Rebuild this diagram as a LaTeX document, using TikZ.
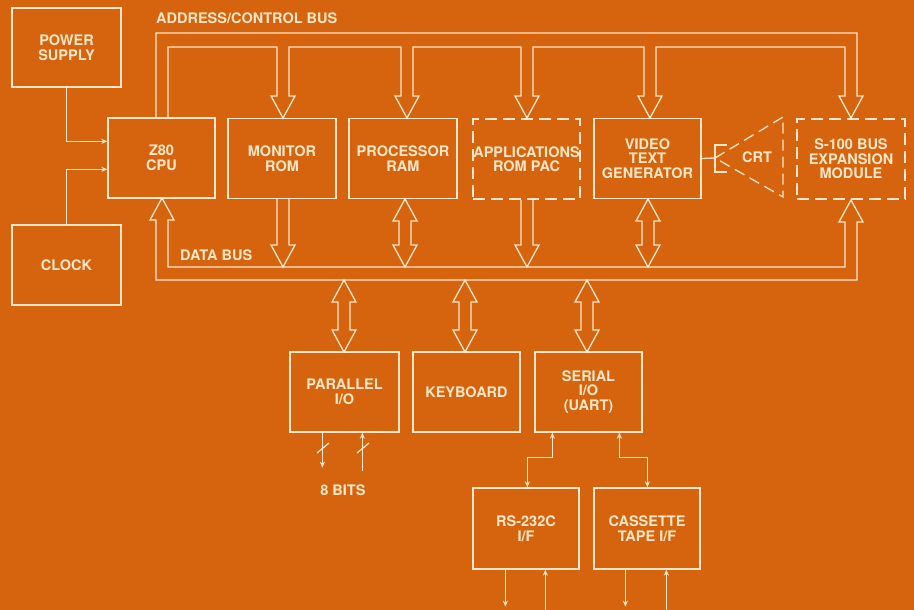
\documentclass[tikz,border=0pt]{standalone}
\usepackage{fontspec}
\setmainfont{TeX Gyre Heros}
\usetikzlibrary{arrows.meta,calc}
\definecolor{bg}{RGB}{214,100,14}
\definecolor{ln}{RGB}{252,232,200}
\newcommand\dnarrow[3]{\draw[bus] (#1-6,#2) -- (#1-6,#3-22) -- (#1-12,#3-22) -- (#1,#3) -- (#1+12,#3-22) -- (#1+6,#3-22) -- (#1+6,#2);}
\newcommand\dblarrow[3]{\draw[bus] (#1,#2) -- (#1+12,#2+22) -- (#1+6,#2+22) -- (#1+6,#3-22) -- (#1+12,#3-22) -- (#1,#3) -- (#1-12,#3-22) -- (#1-6,#3-22) -- (#1-6,#2+22) -- (#1-12,#2+22) -- cycle;}
\begin{document}
\begin{tikzpicture}[x=1pt,y=-1pt,
  txt/.style={text=ln, font=\bfseries\fontsize{14.5}{14.5}\selectfont},
  box/.style={txt, draw=ln, line width=1.3pt, minimum width=107pt, minimum height=80pt, inner sep=0pt, align=center},
  dbox/.style={box, dash pattern=on 12pt off 6pt},
  bus/.style={draw=ln, line width=1.3pt, line join=miter},
  wire/.style={draw=ln, line width=1.3pt},
  tip/.style={-{Stealth[length=6pt,width=5pt]}},
  dtip/.style={{Stealth[length=6pt,width=5pt]}-{Stealth[length=6pt,width=5pt]}},
  lbl/.style={txt, inner sep=0pt}]
\fill[bg] (0,0) rectangle (914,610);
\useasboundingbox (0,0) rectangle (914,610);

% boxes
\node[box, minimum width=109pt, minimum height=79pt] (ps) at (66.5,47.5) {POWER\\SUPPLY};
\node[box, minimum width=109pt] (clk) at (66.5,265) {CLOCK};
\node[box] (cpu) at (161.5,158) {Z80\\CPU};
\node[box, minimum width=108pt] (mon) at (282,158.5) {MONITOR\\ROM};
\node[box, minimum width=108pt] (ram) at (403,158.5) {PROCESSOR\\RAM};
\node[dbox] (app) at (526.5,159) {APPLICATIONS\\ROM PAC};
\node[box] (vtg) at (647.5,158.5) {VIDEO\\TEXT\\GENERATOR};
\node[dbox, minimum width=108pt] (s100) at (851,159) {S-100 BUS\\EXPANSION\\MODULE};
\node[box, minimum width=109pt] (par) at (344.5,392) {PARALLEL\\I/O};
\node[box] (kbd) at (466.5,392) {KEYBOARD};
\node[box] (ser) at (588.5,392) {SERIAL\\I/O\\(UART)};
\node[box, minimum width=106pt, minimum height=81pt] (rs) at (526,528.5) {RS-232C\\I/F};
\node[box, minimum width=106pt, minimum height=81pt] (cas) at (647,528.5) {CASSETTE\\TAPE I/F};

% labels
\node[lbl, anchor=west] (acb) at (156,18) {ADDRESS/CONTROL BUS};
\node[lbl, anchor=west] (dbl) at (180,255) {DATA BUS};
\node[lbl] (bits) at (343,490) {8 BITS};

% address / control bus
\draw[bus] (156,118) -- (156,33) -- (857,33) -- (857,96) -- (863,96) -- (851,118) -- (839,96) -- (845,96) -- (845,47)
  -- (656,47) -- (656,96) -- (662,96) -- (650,118) -- (638,96) -- (644,96) -- (644,47)
  -- (533,47) -- (533,96) -- (539,96) -- (527,118) -- (515,96) -- (521,96) -- (521,47)
  -- (413,47) -- (413,96) -- (419,96) -- (407,118) -- (395,96) -- (401,96) -- (401,47)
  -- (289,47) -- (289,96) -- (295,96) -- (283,118) -- (271,96) -- (277,96) -- (277,47)
  -- (168,47) -- (168,118);

% data bus
\draw[bus] (156,280) -- (156,220) -- (150,220) -- (162,198) -- (174,220) -- (168,220) -- (168,267)
  -- (845,267) -- (845,222) -- (839,222) -- (851,200) -- (863,222) -- (857,222) -- (857,280) -- cycle;
\dnarrow{283}{199}{267}
\dnarrow{527}{200}{267}
\dblarrow{405}{199}{267}
\dblarrow{648}{199}{267}
\dblarrow{344}{280}{352}
\dblarrow{465}{280}{352}
\dblarrow{587}{280}{352}

% power and clock
\draw[wire,tip] (ps.south) |- ($(cpu.north west)+(0,24)$);
\draw[wire,tip] (clk.north) |- ($(cpu.north west)+(0,52)$);

% CRT
\coordinate (crtn) at (715,158);
\draw[wire] (vtg.east) -- (crtn);
\draw[wire] (727,145) -- (715,145) -- (715,172) -- (727,172);
\draw[wire, dash pattern=on 11pt off 6pt] (crtn) -- (783,117) -- (783,197) -- cycle;
\node[lbl] (crt) at (757,157) {CRT};

% parallel I/O lines
\draw[wire,tip] ($(par.south west)+(33,0)$) -- ++(0,35);
\draw[wire,tip] ($(par.south west)+(73,38)$) -- ($(par.south west)+(73,0)$);
\draw[wire] (317,453) -- (329,443);
\draw[wire] (357,453) -- (369,443);

% serial connections
\draw[wire,dtip] ($(ser.south west)+(18,0)$) |- ($(rs.north west)+(55,-30)$) -- ($(rs.north west)+(55,0)$);
\draw[wire,dtip] ($(ser.south west)+(85,0)$) |- ($(cas.north west)+(54,-30)$) -- ($(cas.north west)+(54,0)$);

% outputs
\draw[wire,tip] ($(rs.south west)+(33,0)$) -- ++(0,37);
\draw[wire,tip] ($(rs.south west)+(73,41)$) -- ($(rs.south west)+(73,0)$);
\draw[wire,tip] ($(cas.south west)+(32,0)$) -- ++(0,37);
\draw[wire,tip] ($(cas.south west)+(73,41)$) -- ($(cas.south west)+(73,0)$);
\end{tikzpicture}
\end{document}
